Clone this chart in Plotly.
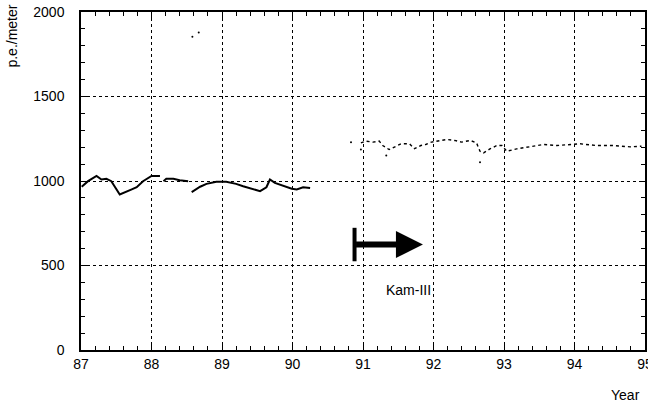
import plotly.graph_objects as go

# Kam-II period (before upgrade) – gain trace
kam2_year = [87.01, 87.10, 87.22, 87.29, 87.36, 87.43, 87.55, 87.62, 87.72, 87.79, 87.88, 88.0, 88.12,
             None, 88.17, 88.21, 88.31, 88.40, 88.52,
             None, 88.57, 88.69, 88.78, 88.92, 89.06, 89.20, 89.30, 89.42, 89.54, 89.63, 89.68,
             89.75, 89.87, 89.99, 90.06, 90.15, 90.25]
kam2_pe = [966, 999, 1030, 1009, 1013, 999, 920, 934, 950, 963, 999, 1030, 1030,
           None, 999, 1013, 1013, 1005, 999,
           None, 934, 966, 983, 995, 995, 983, 969, 954, 940, 963, 1009,
           989, 973, 954, 950, 963, 958]

# Kam-III period
kam3_year = [90.97, 91.04, 91.14, 91.23, 91.28, 91.37, 91.47, 91.54, 91.66, 91.73, 91.82, 91.89, 91.97,
             92.09, 92.19, 92.30, 92.40, 92.52, 92.61, 92.66, 92.71, 92.80, 92.90, 92.97, 93.04,
             93.18, 93.38, 93.56, 93.75, 93.94, 94.08, 94.31, 94.55, 94.79, 94.95]
kam3_pe = [1226, 1236, 1230, 1236, 1210, 1186, 1206, 1220, 1220, 1191, 1210, 1216, 1230,
           1240, 1246, 1240, 1230, 1240, 1226, 1176, 1166, 1190, 1210, 1210, 1176,
           1190, 1206, 1216, 1210, 1216, 1220, 1210, 1210, 1202, 1206]

# isolated points
stray_year = [88.58, 88.67, 90.83, 90.97, 91.33, 92.66]
stray_pe = [1853, 1878, 1230, 1186, 1151, 1111]

x_ticks = [87, 88, 89, 90, 91, 92, 93, 94, 95]
y_ticks = [0, 500, 1000, 1500, 2000]

# annotation settings
kam3_start = 90.88
arrow_end = 91.85
arrow_level = 624
bar_low, bar_high = 525, 723
label_text = "Kam-III"
label_pos = (91.64, 355)

FONT = "Liberation Sans, Arial, Helvetica, sans-serif"

fig = go.Figure()
fig.add_trace(go.Scatter(x=kam2_year, y=kam2_pe, mode="lines", connectgaps=False,
                         line=dict(color="black", width=2), hoverinfo="skip"))
fig.add_trace(go.Scatter(x=kam3_year, y=kam3_pe, mode="lines",
                         line=dict(color="black", width=1.4, dash="dot"), hoverinfo="skip"))
fig.add_trace(go.Scatter(x=stray_year, y=stray_pe, mode="markers",
                         marker=dict(color="black", size=2), hoverinfo="skip"))

# vertical start bar
fig.add_shape(type="line", x0=kam3_start, x1=kam3_start, y0=bar_low, y1=bar_high,
              xref="x", yref="y", line=dict(color="black", width=4))
# arrow
fig.add_annotation(x=arrow_end, y=arrow_level, ax=kam3_start, ay=arrow_level,
                   xref="x", yref="y", axref="x", ayref="y", text="",
                   showarrow=True, arrowhead=2, arrowsize=0.9, arrowwidth=6, arrowcolor="black")
fig.add_annotation(x=label_pos[0], y=label_pos[1], xref="x", yref="y", text=label_text,
                   showarrow=False, font=dict(family=FONT, size=14, color="black"))

# axis titles
fig.add_annotation(x=-0.122, y=1.027, xref="paper", yref="paper", text="p.e./meter", showarrow=False,
                   textangle=-90, xanchor="center", yanchor="top",
                   font=dict(family=FONT, size=14, color="black"))
fig.add_annotation(x=0.995, y=-0.105, xref="paper", yref="paper", text="Year", showarrow=False,
                   xanchor="right", yanchor="top",
                   font=dict(family=FONT, size=14, color="black"))

axis_common = dict(showline=True, linecolor="black", linewidth=1.5, mirror="ticks",
                   ticks="inside", ticklen=6, tickcolor="black", tickwidth=1,
                   showgrid=True, gridcolor="black", gridwidth=1, griddash="dot",
                   zeroline=False, automargin=False, ticklabeloverflow="allow",
                   tickfont=dict(family=FONT, size=14, color="black"))

fig.update_xaxes(range=[87, 95], tickvals=x_ticks, ticktext=[str(v) for v in x_ticks],
                 minor=dict(ticks="inside", dtick=0.2, ticklen=4, tickcolor="black", showgrid=False),
                 **axis_common)
fig.update_yaxes(range=[0, 2000], tickvals=y_ticks, ticktext=[str(v) for v in y_ticks],
                 minor=dict(ticks="inside", dtick=100, ticklen=4, tickcolor="black", showgrid=False),
                 ticklabelstandoff=12, **axis_common)

fig.update_layout(width=648, height=405, showlegend=False,
                  margin=dict(l=81, r=3, t=12, b=55, autoexpand=False),
                  plot_bgcolor="white", paper_bgcolor="white",
                  font=dict(family=FONT, size=14, color="black"))

# remove the default 8px page margin so the 648x405 figure fills the window exactly
fig.write_html("out.html", config={"displayModeBar": False},
               post_script="document.body.style.margin='0';document.body.style.overflow='hidden';")
